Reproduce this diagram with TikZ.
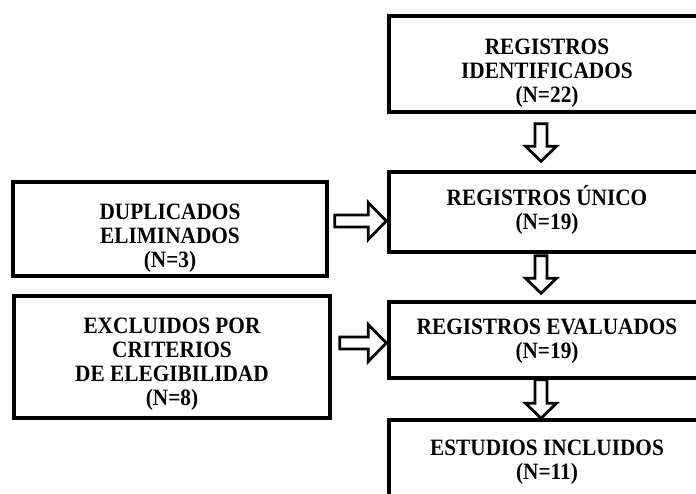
\documentclass[tikz,border=0pt]{standalone}
\usepackage{fontspec}
\setmainfont{Liberation Serif}
\usetikzlibrary{calc}
\tikzset{
  box/.style={draw=black, line width=3.5pt, fill=white, align=center,
    inner sep=0pt, font=\fontsize{21.3}{21.8}\selectfont\bfseries},
  blockarrow/.style={draw=black, fill=white, line width=2.8pt, line join=miter}
}
% text block: vertical shift (down), lines
\newcommand{\tx}[2]{\raisebox{-#1}[\height][\depth]{\scalebox{1}[1.1]{\begin{tabular}{@{}c@{}}#2\end{tabular}}}}
\newcommand{\dnblockarrow}[2]{%
  \draw[blockarrow] let \p1=(#1), \p2=(#2) in
  (\x1-6pt,\y1) -- (\x1+6pt,\y1) -- (\x1+6pt,\y2+15pt) -- (\x1+15.5pt,\y2+15pt)
  -- (\x1,\y2) -- (\x1-15.5pt,\y2+15pt) -- (\x1-6pt,\y2+15pt) -- cycle;}
\newcommand{\rtblockarrow}[2]{%
  \draw[blockarrow] let \p1=(#1), \p2=(#2) in
  (\x1,\y1+6pt) -- (\x2-18pt,\y1+6pt) -- (\x2-18pt,\y1+18.5pt) -- (\x2,\y1)
  -- (\x2-18pt,\y1-18.5pt) -- (\x2-18pt,\y1-6pt) -- (\x1,\y1-6pt) -- cycle;}
\begin{document}
\begin{tikzpicture}[x=1pt,y=-1pt]
\useasboundingbox[fill=white] (0,0) rectangle (696,494);
\clip (0,0) rectangle (696,494);
% right column
\node[box, minimum width=316pt, minimum height=96pt] (b1) at (547,64)
  {\tx{9.5pt}{REGISTROS\\IDENTIFICADOS\\(N=22)}};
\node[box, minimum width=316pt, minimum height=80pt] (b2) at (547,212)
  {\tx{-1pt}{REGISTROS ÚNICO\\(N=19)}};
\node[box, minimum width=316pt, minimum height=76pt] (b3) at (547,340)
  {\tx{2pt}{REGISTROS EVALUADOS\\(N=19)}};
\node[box, minimum width=316pt, minimum height=80pt] (b4) at (547,460)
  {\tx{2.5pt}{ESTUDIOS INCLUIDOS\\(N=11)}};
% left column
\node[box, minimum width=314pt, minimum height=94pt] (d) at (170,229)
  {\tx{10pt}{DUPLICADOS\\ELIMINADOS\\(N=3)}};
\node[box, minimum width=316pt, minimum height=122pt] (e) at (172,357)
  {\tx{8pt}{EXCLUIDOS POR\\CRITERIOS\\DE ELEGIBILIDAD\\(N=8)}};
% arrow end points
\coordinate (a1s) at ($(b1.south)+(-6,10)$);
\coordinate (a1e) at ($(b2.north)+(-6,-9)$);
\coordinate (a2s) at ($(b2.south)+(-6,2)$);
\coordinate (a2e) at ($(b3.north)+(-6,-7)$);
\coordinate (a3s) at ($(b3.south)+(-6,0)$);
\coordinate (a3e) at ($(b4.north)+(-6,0)$);
\coordinate (h1s) at ($(d.east)+(6,-8)$);
\coordinate (h1e) at ($(b2.west)+(-1,0)$);
\coordinate (h2s) at ($(e.east)+(8,-14)$);
\coordinate (h2e) at ($(b3.west)+(-1,0)$);
\dnblockarrow{a1s}{a1e}
\dnblockarrow{a2s}{a2e}
\dnblockarrow{a3s}{a3e}
\rtblockarrow{h1s}{h1e}
\rtblockarrow{h2s}{h2e}
\end{tikzpicture}
\end{document}
